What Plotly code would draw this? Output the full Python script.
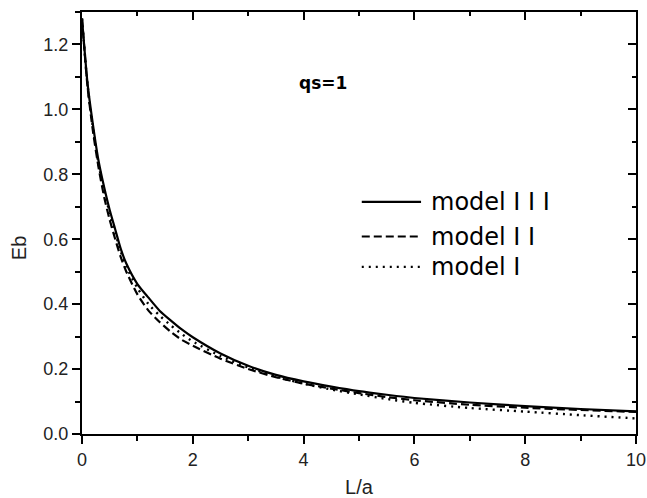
import plotly.graph_objects as go

# ---- data ----
L_a = [0.0, 0.1, 0.2, 0.3, 0.4, 0.5, 0.6, 0.7, 0.8, 1.0, 1.2, 1.4, 1.6, 1.8, 2.0,
       2.5, 3.0, 3.5, 4.0, 4.5, 5.0, 5.5, 6.0, 7.0, 8.0, 9.0, 10.0]

eb_model3 = [1.28, 1.08, 0.95, 0.84, 0.76, 0.69, 0.63, 0.57, 0.525, 0.462, 0.42, 0.38,
             0.35, 0.322, 0.298, 0.248, 0.21, 0.182, 0.162, 0.146, 0.132, 0.121, 0.111,
             0.097, 0.086, 0.077, 0.070]
eb_model2 = [1.28, 1.07, 0.93, 0.82, 0.73, 0.66, 0.60, 0.545, 0.50, 0.43, 0.38, 0.345,
             0.315, 0.29, 0.272, 0.232, 0.20, 0.175, 0.155, 0.14, 0.126, 0.114, 0.104,
             0.090, 0.081, 0.074, 0.068]
eb_model1 = [1.28, 1.075, 0.94, 0.83, 0.75, 0.68, 0.62, 0.562, 0.515, 0.45, 0.40, 0.365,
             0.335, 0.308, 0.285, 0.24, 0.205, 0.177, 0.155, 0.137, 0.122, 0.108, 0.096,
             0.080, 0.069, 0.058, 0.048]

series_names = ["model I I I", "model I I", "model I"]
x_ticks = [0, 2, 4, 6, 8, 10]
y_ticks = [0.0, 0.2, 0.4, 0.6, 0.8, 1.0, 1.2]
x_title = "L/a"
y_title = "Eb"
annotation_text = "qs=1"

# ---- styles ----
dashes = ["solid", "8px,4px", "2px,5px"]
widths = [2.2, 2.2, 2.4]

fig = go.Figure()
for name, ys, dash, w in zip(series_names, [eb_model3, eb_model2, eb_model1], dashes, widths):
    fig.add_trace(go.Scatter(x=L_a, y=ys, mode="lines", name=name, showlegend=False,
                             line=dict(color="black", width=w, dash=dash, shape="spline",
                                       smoothing=0.6)))

# invisible trace so the mirrored (top/right) frame axes get drawn
fig.add_trace(go.Scatter(x=L_a, y=eb_model3, xaxis="x2", yaxis="y2", mode="lines",
                         line=dict(width=0), opacity=0, showlegend=False, hoverinfo="skip"))

tickfont = dict(family="Liberation Sans, Arial", size=18, color="#222")
titlefont = dict(family="Liberation Sans, Arial", size=20, color="#222")
axcommon = dict(showline=True, linecolor="black", linewidth=2, showgrid=False,
                zeroline=False, tickcolor="black", tickwidth=2, automargin=False)

fig.update_layout(
    width=647, height=498,
    margin=dict(l=82, r=11, t=12, b=64),
    paper_bgcolor="white", plot_bgcolor="white",
    xaxis=dict(range=[0, 10], tickvals=x_ticks, ticktext=[str(v) for v in x_ticks],
               ticks="outside", ticklen=8, tickfont=tickfont,
               minor=dict(dtick=1, ticks="outside", ticklen=5, tickwidth=2, tickcolor="black"),
               title=dict(text=x_title, font=titlefont, standoff=12),
               **axcommon),
    yaxis=dict(range=[0, 1.3], tickvals=y_ticks, ticktext=[f"{v:.1f}" for v in y_ticks],
               ticks="outside", ticklen=8, tickfont=tickfont,
               minor=dict(dtick=0.1, ticks="outside", ticklen=5, tickwidth=2, tickcolor="black"),
               **axcommon),
    xaxis2=dict(range=[0, 10], overlaying="x", anchor="y", side="top", tickvals=x_ticks,
                ticks="inside", ticklen=8, showticklabels=False,
                minor=dict(dtick=1, ticks="inside", ticklen=4, tickwidth=2, tickcolor="black"),
                **axcommon),
    yaxis2=dict(range=[0, 1.3], overlaying="y", anchor="x", side="right", tickvals=y_ticks,
                ticks="inside", ticklen=8, showticklabels=False,
                minor=dict(dtick=0.1, ticks="inside", ticklen=4, tickwidth=2, tickcolor="black"),
                **axcommon),
)

# y-axis title (placed beside the 0.6 label as in the reference)
fig.add_annotation(x=-0.114, y=0.44, xref="paper", yref="paper", text=y_title, textangle=-90,
                   showarrow=False, xanchor="center", yanchor="middle", font=titlefont)

# annotation "qs=1"
fig.add_annotation(x=0.435, y=0.832, xref="paper", yref="paper", text=f"<b>{annotation_text}</b>",
                   showarrow=False, xanchor="center", yanchor="middle",
                   font=dict(family="DejaVu Sans", size=17, color="black"))

# manual legend
leg_y = [0.550, 0.468, 0.396]
for name, dash, w, yy in zip(series_names, dashes, widths, leg_y):
    fig.add_shape(type="line", xref="paper", yref="paper", x0=0.505, x1=0.612, y0=yy, y1=yy,
                  line=dict(color="black", width=w, dash=dash))
    fig.add_annotation(x=0.626, y=yy, xref="paper", yref="paper", text=name, showarrow=False,
                       xanchor="left", yanchor="middle",
                       font=dict(family="DejaVu Sans", size=24, color="black"))

# remove the browser's default page margin so the figure sits at the window origin
fig.write_html("out.html", config={"displayModeBar": False},
               post_script="document.body.style.margin='0px';")
